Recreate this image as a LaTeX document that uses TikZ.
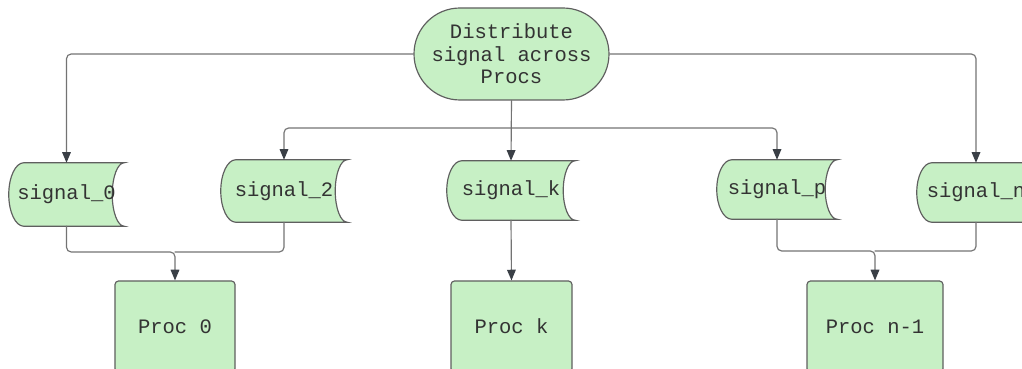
\documentclass[tikz,border=0pt]{standalone}
\usepackage{fontspec}
\setmonofont{Liberation Mono}
\usetikzlibrary{arrows.meta,calc,shapes.misc,backgrounds}

\definecolor{boxgreen}{RGB}{199,240,197}
\definecolor{edgegray}{RGB}{95,95,95}
\definecolor{linegray}{RGB}{115,115,115}
\definecolor{tipgray}{RGB}{58,63,70}
\definecolor{textgray}{RGB}{51,51,51}

\begin{document}
\begin{tikzpicture}[x=0.03cm, y=0.03cm, line cap=round, line join=round,
  >={Triangle[length=3.2mm, width=2.6mm, color=tipgray]},
  every node/.style={font=\ttfamily\fontsize{17.5}{19.2}\selectfont, text=textgray},
  terminal/.style={rounded rectangle, draw=edgegray, fill=boxgreen, line width=1pt,
    minimum width=5.85cm, minimum height=2.76cm, align=center, inner sep=0pt},
  datanode/.style={inner sep=0pt},
  datashape/.style={draw=edgegray, fill=boxgreen, line width=1pt},
  procbox/.style={draw=edgegray, fill=boxgreen, line width=1pt, rounded corners=3pt,
    minimum height=2.73cm},
  link/.style={draw=linegray, line width=1pt, rounded corners=4pt}]
  \useasboundingbox (0,0) rectangle (1022,369);
  \clip (0,0) rectangle (1022,369);

  % Top terminal
  \node[terminal] (dist) at (511.5,315) {Distribute\\signal across\\Procs};

  % Signal pieces
  \node[datanode, minimum width=3.45cm, minimum height=1.89cm] (s0) at (66.5,174.5) {signal\_0};
  \node[datanode, minimum width=3.78cm, minimum height=1.86cm] (s2) at (284,178) {signal\_2};
  \node[datanode, minimum width=3.84cm, minimum height=1.77cm] (sk) at (511,178.5) {signal\_k};
  \node[datanode, minimum width=3.6cm, minimum height=1.77cm] (sp) at (777,179.5) {signal\_p};
  \node[datanode, minimum width=3.54cm, minimum height=1.77cm] (sn) at (976,176.5) {signal\_n};

  % Procs
  \node[procbox, minimum width=3.6cm] (p0) at (175,42.5) {Proc 0};
  \node[procbox, minimum width=3.63cm] (pk) at (511.5,42.5) {Proc k};
  \node[procbox, minimum width=4.08cm] (pn) at (875,42.5) {Proc n-1};

  % Stored data outlines behind the signal texts
  \begin{scope}[on background layer]
    \clip (0,0) rectangle (1022,369);
    \foreach \sig in {s0,s2,sk,sp,sn}
      \path[datashape] let \p1=(\sig.north west), \p2=(\sig.south west) in
        ([xshift=0.45cm]\sig.north west)
          arc[start angle=90, end angle=270, x radius=0.45cm, y radius={0.5*\y1-0.5*\y2}]
          -- (\sig.south east)
          arc[start angle=270, end angle=90, x radius=0.36cm, y radius={0.5*\y1-0.5*\y2}]
          -- cycle;
  \end{scope}

  % From the terminal out to the signals
  \coordinate (bus) at (511.5,241);
  \draw[link,->] (dist.west) -| (s0.north);
  \draw[link,->] (dist.east) -| (sn.north);
  \draw[link,->] (dist.south) -- (sk.north);
  \draw[link,->] (bus) -| (s2.north);
  \draw[link,->] (bus) -| (sp.north);

  % Signals gathered into the procs
  \coordinate (j0) at (175,117);
  \coordinate (jn) at (875,118);
  \draw[link,->] (s0.south) |- (j0) -- (p0.north);
  \draw[link] (s2.south) |- (j0);
  \draw[link,->] (sk.south) -- (pk.north);
  \draw[link,->] (sp.south) |- (jn) -- (pn.north);
  \draw[link] (sn.south) |- (jn);
\end{tikzpicture}
\end{document}
